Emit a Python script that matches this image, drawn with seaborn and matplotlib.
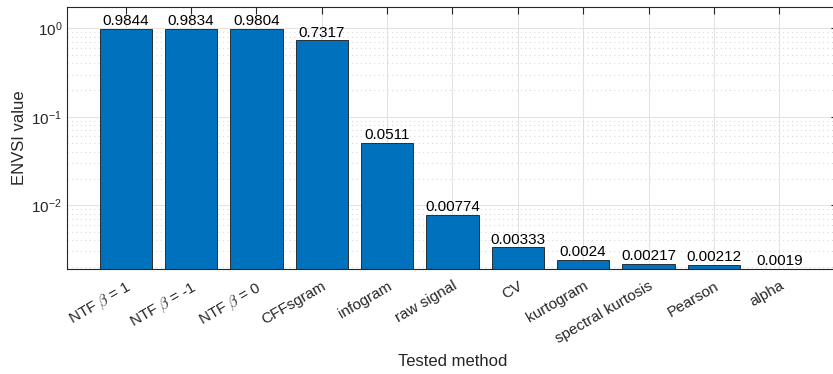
import matplotlib
matplotlib.use("Agg")
import matplotlib.pyplot as plt
import seaborn as sns
import pandas as pd
import numpy as np
from matplotlib.ticker import LogLocator, NullFormatter

methods = [r"NTF $\beta$ = 1", r"NTF $\beta$ = -1", r"NTF $\beta$ = 0", "CFFsgram",
           "infogram", "raw signal", "CV", "kurtogram", "spectral kurtosis",
           "Pearson", "alpha"]
values = [0.9844, 0.9834, 0.9804, 0.7317, 0.0511, 0.00774, 0.00333, 0.0024,
          0.00217, 0.00212, 0.0019]
value_labels = ["%.4g" % v for v in values]

sns.set_style("white")
plt.rcParams["font.family"] = ["Liberation Sans", "DejaVu Sans"]
plt.rcParams["mathtext.fontset"] = "cm"

fig = plt.figure(figsize=(8.33, 3.74), dpi=100)
ax = fig.add_axes([67 / 833, 1 - 269 / 374, (838 - 67) / 833, (269 - 7) / 374])
ax.set_yscale("log")

df = pd.DataFrame({"method": methods, "value": values})
sns.barplot(data=df, x="method", y="value", order=methods, color="#0072BD",
            saturation=1, width=0.8, edgecolor="#1a1a1a", linewidth=0.6,
            errorbar=None, ax=ax)

ax.set_xlim(-0.9, len(methods) - 0.1)
ax.set_ylim(0.0019, 1.74)

ax.bar_label(ax.containers[0], labels=value_labels, padding=0.5, fontsize=11,
             color="black")

# grids
ax.yaxis.set_major_locator(LogLocator(base=10, numticks=10))
ax.yaxis.set_minor_locator(LogLocator(base=10, subs=np.arange(2, 10), numticks=20))
ax.yaxis.set_minor_formatter(NullFormatter())
ax.grid(True, which="major", axis="both", color="#e3e3e3", linewidth=0.8, linestyle="-")
ax.grid(True, which="minor", axis="y", color="#d9d9d9", linewidth=0.8, linestyle=(0, (1, 3)))
ax.set_axisbelow(True)

ax.tick_params(axis="both", which="both", direction="in", top=True, right=True,
               colors="#262626", labelcolor="#262626")
ax.tick_params(axis="both", which="major", length=5, width=0.8, labelsize=11)
ax.tick_params(axis="y", which="minor", length=3, width=0.6)
ax.tick_params(axis="x", which="major", pad=7)
for lab in ax.get_xticklabels():
    lab.set_rotation(30)
    lab.set_ha("right")
    lab.set_rotation_mode("anchor")

for sp in ax.spines.values():
    sp.set_color("#262626")
    sp.set_linewidth(0.8)

ax.set_xlabel("Tested method", fontsize=12, color="#262626")
ax.set_ylabel("ENVSI value", fontsize=12, color="#262626")
ax.xaxis.set_label_coords(0.5, -0.325)
ax.yaxis.set_label_coords(-0.052, 0.5)

fig.savefig("out.png", dpi=100)
